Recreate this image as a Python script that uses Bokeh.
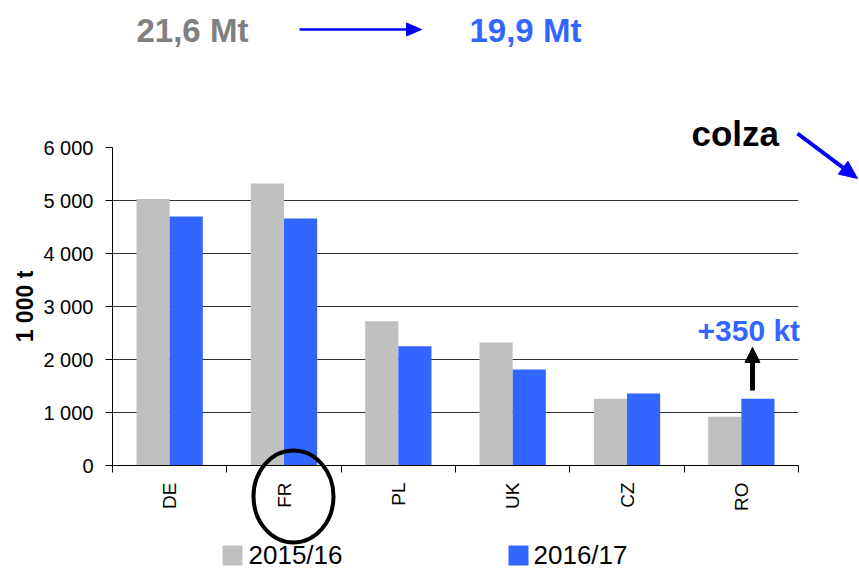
import numpy as np
from bokeh.plotting import figure
from bokeh.models import Range1d, FixedTicker
from bokeh.core.properties import value
from bokeh.embed import file_html
from bokeh.resources import INLINE

# ---- data ----
countries = ["DE", "FR", "PL", "UK", "CZ", "RO"]
prod_2015 = [5030, 5320, 2720, 2320, 1260, 920]
prod_2016 = [4700, 4660, 2250, 1810, 1360, 1260]
series_names = ["2015/16", "2016/17"]
y_ticks = [0, 1000, 2000, 3000, 4000, 5000, 6000]
y_tick_labels = ["0", "1 000", "2 000", "3 000", "4 000", "5 000", "6 000"]
y_title = "1 000 t"
total_before = "21,6 Mt"
total_after = "19,9 Mt"
crop_name = "colza"
ro_change = "+350 kt"

FONT = "Liberation Sans"
GRAY = "#C0C0C0"
BLUE = "#3366FF"
series_colors = [GRAY, BLUE]

W, H = 859, 570
FL, FRt, FT, FB = 112, 798, 147, 465   # frame edges in canvas pixels
p = figure(width=W, height=H, output_backend="svg", toolbar_location=None,
           x_range=Range1d(-0.5, len(countries) - 0.5), y_range=Range1d(0, 6000),
           min_border_left=FL, min_border_right=W - FRt, min_border_top=FT,
           min_border_bottom=H - FB)
p.outline_line_color = None
p.background_fill_color = "white"

def dx(px):
    return -0.5 + (px - FL) * len(countries) / (FRt - FL)
def dy(py):
    return (FB - py) * 6000 / (FB - FT)

x = np.arange(len(countries))
bw = 0.29
r1 = p.vbar(x=x - bw / 2, top=prod_2015, width=bw, fill_color=GRAY, line_color=None)
r2 = p.vbar(x=x + bw / 2, top=prod_2016, width=bw, fill_color=BLUE, line_color=None)

# x axis
p.xaxis.ticker = FixedTicker(ticks=[int(i) for i in x],
                             minor_ticks=[float(i) - 0.5 for i in range(len(countries) + 1)])
p.xaxis.major_label_overrides = {int(i): c for i, c in enumerate(countries)}
p.xaxis.major_label_orientation = np.pi / 2
p.xaxis.major_tick_out = 0
p.xaxis.major_tick_in = 0
p.xaxis.minor_tick_out = 7
p.xaxis.minor_tick_in = 0
p.xaxis.minor_tick_line_color = "black"
p.xaxis.major_label_standoff = 10
p.xaxis.major_label_text_font_size = "19px"
p.xaxis.major_label_text_font = FONT
p.xaxis.major_label_text_color = "black"
p.xaxis.axis_line_color = "black"

# y axis
p.yaxis.ticker = FixedTicker(ticks=y_ticks)
p.yaxis.major_label_overrides = dict(zip(y_ticks, y_tick_labels))
p.yaxis.major_tick_out = 7
p.yaxis.major_tick_in = 0
p.yaxis.minor_tick_line_color = None
p.yaxis.major_tick_line_color = "black"
p.yaxis.axis_line_color = "black"
p.yaxis.major_label_standoff = 12
p.yaxis.major_label_text_font_size = "20px"
p.yaxis.major_label_text_font = FONT
p.yaxis.major_label_text_color = "black"
p.yaxis.axis_label = y_title
p.yaxis.axis_label_text_font = FONT
p.yaxis.axis_label_text_font_style = "bold"
p.yaxis.axis_label_text_font_size = "23px"
p.yaxis.axis_label_text_color = "black"
p.yaxis.axis_label_standoff = 2

p.ygrid.grid_line_color = "#333333"
p.ygrid.grid_line_width = 1
p.xgrid.visible = False

def label(px, baseline_py, text, size, color, bold=True):
    # vertical middle of the digits sits ~0.355 em above the baseline
    p.text(x=[dx(px)], y=[dy(baseline_py - 0.355 * size)], text=[text], text_font=value(FONT),
           text_font_style="bold" if bold else "normal",
           text_font_size=f"{size}px", text_color=color, text_align="left",
           text_baseline="middle", level="overlay")

label(136, 42, total_before, 33, "#808080")
label(469, 42, total_after, 33, BLUE)
label(691, 145, crop_name, 35, "black")
label(697, 341, ro_change, 30, BLUE)

def arrow(x0, y0, x1, y1, color, lw, head_len, head_w):
    vx, vy = x1 - x0, y1 - y0
    n = (vx * vx + vy * vy) ** 0.5
    ux, uy = vx / n, vy / n
    nx, ny = -uy, ux
    bx, by = x1 - ux * head_len, y1 - uy * head_len
    p.segment(x0=[dx(x0)], y0=[dy(y0)], x1=[dx(bx + ux * 2)], y1=[dy(by + uy * 2)],
              line_color=color, line_width=lw, level="overlay")
    hx = [x1, bx + nx * head_w / 2, bx - nx * head_w / 2]
    hy = [y1, by + ny * head_w / 2, by - ny * head_w / 2]
    p.patch(x=[dx(v) for v in hx], y=[dy(v) for v in hy], fill_color=color,
            line_color=color, line_width=1, level="overlay")

arrow(299, 29, 421, 29, "#0000FF", 2.5, 15, 13)
arrow(797, 133, 857, 178, "#0000FF", 4, 18, 16)
arrow(752, 390, 752, 347, "black", 5, 15, 15)

# circle around FR label
p.ellipse(x=[dx(293)], y=[dy(496)], width=80, height=92, width_units="screen",
          height_units="screen", fill_color=None, line_color="black", line_width=4, level="overlay")

# legend below the axis (swatch + label per series)
legend_pos = [(222, 248), (508, 533)]
for name, color, (sx, tx) in zip(series_names, series_colors, legend_pos):
    p.patch(x=[dx(sx), dx(sx + 20), dx(sx + 20), dx(sx)],
            y=[dy(545), dy(545), dy(565), dy(565)],
            fill_color=color, line_color=None, level="overlay")
    label(tx, 564, name, 26, "black", bold=False)

open("out.html", "w").write(file_html(p, INLINE))
